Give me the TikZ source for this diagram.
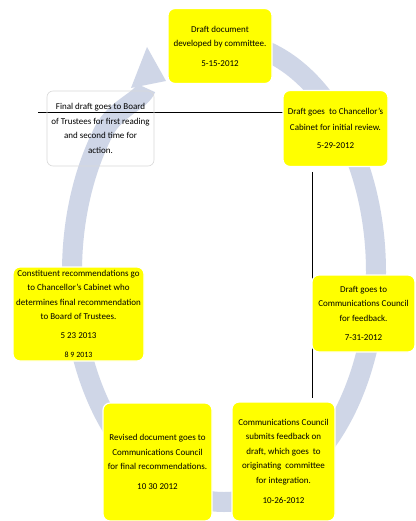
\documentclass[tikz,border=0pt]{standalone}
\usepackage{fontspec}
\setmainfont{Carlito}
\definecolor{ringc}{RGB}{207,214,231}
\definecolor{boxy}{RGB}{255,255,0}
\tikzset{
  ring/.style={draw=ringc, line width=20pt},
  ybox/.style={fill=boxy, draw=white, line width=1.2pt, rounded corners=7pt,
    align=center, inner sep=2pt, font=\fontsize{9}{14.5}\selectfont},
  wbox/.style={draw=gray!30, line width=0.6pt, rounded corners=6pt,
    align=center, inner sep=2pt, font=\fontsize{9}{14.5}\selectfont},
  conn/.style={draw=black, line width=0.7pt}
}
\begin{document}
\begin{tikzpicture}[x=1pt,y=-1pt]
\useasboundingbox (0,0) rectangle (415,521);
\fill[white] (0,0) rectangle (415,521);
% circular arrow ring
\draw[ring] plot[domain=-80:218, samples=150, smooth] ({224+152*cos(\x)},{272+230*sin(\x)})
  .. controls (115.7,108) and (141.5,101) .. (146,88);
\fill[ringc] (131,88) -- (147,47) -- (166,81) -- cycle;
% connector lines (free ends are named coordinates)
\coordinate (hl) at (38,112);
\coordinate (hr) at (283,112);
\draw[conn] (hl) -- (hr);
\coordinate (vt) at (312,172);
\coordinate (vb) at (312,398);
\draw[conn] (vt) -- (vb);
% boxes
\node[ybox, minimum width=104pt, minimum height=75pt] (b1) at (220,46)
  {Draft document\\developed by committee.\\[5pt]5-15-2012};
\node[ybox, minimum width=105pt, minimum height=76pt] (b2) at (335.5,128.5)
  {Draft goes\ \ to Chancellor's\\[1.5pt]Cabinet for initial review.\\[4pt]5-29-2012};
\node[ybox, minimum width=103pt, minimum height=77pt] (b3) at (363.5,313.5)
  {Draft goes to\\Communications Council\\for feedback.\\[5pt]7-31-2012};
\node[ybox, minimum width=103pt, minimum height=119pt] (b4) at (283.5,461.5)
  {Communications Council\\submits feedback on\\draft, which goes\ \ to\\originating\ \ committee\\for integration.\\[6pt]10-26-2012};
\node[ybox, minimum width=109pt, minimum height=118pt] (b5) at (157.5,462)
  {Revised document goes to\\Communications Council\\for final recommendations.\\[5pt]10 30 2012};
\node[ybox, minimum width=131pt, minimum height=94pt] (b6) at (78.5,314)
  {Constituent recommendations go\\to Chancellor's Cabinet who\\determines final recommendation\\to Board of Trustees.\\[4pt]5 23 2013\\[5pt]{\fontsize{8}{10}\selectfont 8 9 2013}};
% white box
\node[wbox, minimum width=107pt, minimum height=75pt] (w7) at (100.5,128.5)
  {Final draft goes to Board\\of Trustees for first reading\\and second time for\\action.};
\end{tikzpicture}
\end{document}
